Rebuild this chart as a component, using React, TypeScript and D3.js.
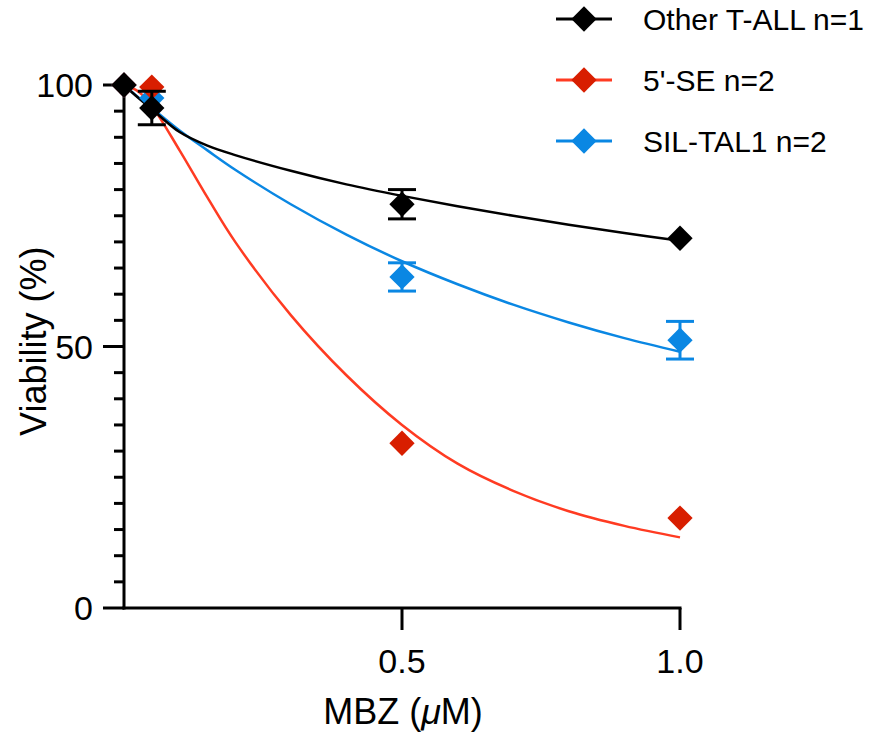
import * as d3 from "d3";
import { useEffect, useRef } from "react";

// doses (uM)
const doses = [0, 0.05, 0.5, 1.0];

// mean viability (%) per group
const otherTall = [100, 95.6, 77.2, 70.7];
const otherTallErr = [0, 3.2, 2.8, 0];
const fiveSE = [100, 99.6, 31.5, 17.2];
const fiveSEErr = [0, 0, 0, 0];
const silTal1 = [100, 97.5, 63.3, 51.2];
const silTal1Err = [0, 0, 2.7, 3.6];

// fitted curves
const fitDoses = [0, 0.025, 0.05, 0.1, 0.15, 0.2, 0.3, 0.4, 0.5, 0.6, 0.7, 0.8, 0.9, 1.0];
const otherTallFit = [100, 97.6, 95.4, 91.0, 88.4, 86.6, 83.6, 81.0, 78.8, 76.8, 75.0, 73.3, 71.7, 70.2];
const fiveSEFit = [100, 98.8, 96.0, 87.5, 78.5, 70.0, 56.0, 44.5, 35.0, 27.6, 22.4, 18.5, 15.7, 13.5];
const silTal1Fit = [100, 97.7, 95.6, 91.3, 87.5, 83.8, 77.2, 71.4, 66.3, 61.9, 58.0, 54.6, 51.6, 49.0];

const yTicks = [0, 50, 100];
const xTicks = [0.5, 1.0];
const legendLabels = ["Other T-ALL n=1", "5'-SE n=2", "SIL-TAL1 n=2"];

const FONT = "'Liberation Sans', Arial, Helvetica, sans-serif";

const App = () => {
  const ref = useRef<SVGSVGElement>(null);

  useEffect(() => {
    const svg = d3.select(ref.current);
    svg.selectAll("*").remove();

    const x = d3.scaleLinear().domain([0, 1]).range([124, 680]);
    const y = d3.scaleLinear().domain([0, 100]).range([608, 85]);

    const groups = [
      { name: legendLabels[0], vals: otherTall, err: otherTallErr, fit: otherTallFit, line: "#000000", mark: "#000000" },
      { name: legendLabels[1], vals: fiveSE, err: fiveSEErr, fit: fiveSEFit, line: "#ff3b22", mark: "#d81e00" },
      { name: legendLabels[2], vals: silTal1, err: silTal1Err, fit: silTal1Fit, line: "#0a87e3", mark: "#0a87e3" },
    ];

    // axes
    const ax = svg.append("g").attr("stroke", "#000").attr("stroke-width", 3);
    ax.append("line").attr("x1", x(0)).attr("x2", x(0)).attr("y1", y(100) - 1.5).attr("y2", y(0) + 1.5);
    ax.append("line").attr("x1", x(0) - 1.5).attr("x2", x(1) + 1.5).attr("y1", y(0)).attr("y2", y(0));
    d3.range(0, 101, 5).forEach((v) => {
      const major = v % 50 === 0;
      ax.append("line")
        .attr("x1", x(0) - (major ? 21 : 10)).attr("x2", x(0))
        .attr("y1", y(v)).attr("y2", y(v));
    });
    xTicks.forEach((v) => {
      ax.append("line").attr("x1", x(v)).attr("x2", x(v)).attr("y1", y(0)).attr("y2", y(0) + 22);
    });

    svg.append("g")
      .selectAll("text")
      .data(yTicks)
      .join("text")
      .attr("x", 93)
      .attr("y", (d) => y(d))
      .attr("dy", "0.36em")
      .attr("text-anchor", "end")
      .attr("font-family", FONT)
      .attr("font-size", 34)
      .text((d) => d);

    svg.append("g")
      .selectAll("text")
      .data(xTicks)
      .join("text")
      .attr("x", (d) => x(d))
      .attr("y", 673)
      .attr("text-anchor", "middle")
      .attr("font-family", FONT)
      .attr("font-size", 34)
      .text((d) => d3.format(".1f")(d));

    const xt = svg.append("text")
      .attr("x", 403)
      .attr("y", 724)
      .attr("text-anchor", "middle")
      .attr("font-family", FONT)
      .attr("font-size", 36);
    xt.append("tspan").text("MBZ (");
    xt.append("tspan").attr("font-style", "italic").text("\u03bc");
    xt.append("tspan").text("M)");

    svg.append("text")
      .attr("transform", `translate(46,${y(51)}) rotate(-90)`)
      .attr("text-anchor", "middle")
      .attr("font-family", FONT)
      .attr("font-size", 36)
      .text("Viability (%)");

    // fitted curves
    const line = d3.line<number>()
      .x((_, i) => x(fitDoses[i]))
      .y((d) => y(d))
      .curve(d3.curveCatmullRom);
    [groups[2], groups[1], groups[0]].forEach((g) => {
      svg.append("path")
        .attr("d", line(g.fit))
        .attr("fill", "none")
        .attr("stroke", g.line)
        .attr("stroke-width", 2.5);
    });

    const diamond = d3.symbol().type(d3.symbolSquare).size(320);

    // points + error bars
    [groups[2], groups[1], groups[0]].forEach((g) => {
      const pg = svg.append("g");
      doses.forEach((dose, i) => {
        const e = g.err[i];
        if (e > 0) {
          pg.append("g")
            .attr("stroke", g.mark)
            .attr("stroke-width", 3)
            .call((s) => {
              s.append("line").attr("x1", x(dose)).attr("x2", x(dose)).attr("y1", y(g.vals[i] + e)).attr("y2", y(g.vals[i] - e));
              s.append("line").attr("x1", x(dose) - 14).attr("x2", x(dose) + 14).attr("y1", y(g.vals[i] + e)).attr("y2", y(g.vals[i] + e));
              s.append("line").attr("x1", x(dose) - 14).attr("x2", x(dose) + 14).attr("y1", y(g.vals[i] - e)).attr("y2", y(g.vals[i] - e));
            });
        }
        pg.append("path")
          .attr("d", diamond()!)
          .attr("transform", `translate(${x(dose)},${y(g.vals[i])}) rotate(45)`)
          .attr("fill", g.mark);
      });
    });

    // legend
    groups.forEach((g, i) => {
      const ly = 19 + i * 61;
      const lg = svg.append("g").attr("transform", `translate(0,${ly})`);
      lg.append("line").attr("x1", 556).attr("x2", 612).attr("y1", 0).attr("y2", 0)
        .attr("stroke", g.line).attr("stroke-width", 3);
      lg.append("path").attr("d", diamond()!).attr("transform", "translate(584,0) rotate(45)").attr("fill", g.mark);
      lg.append("text")
        .attr("x", 643)
        .attr("y", 0)
        .attr("dy", "0.36em")
        .attr("font-family", FONT)
        .attr("font-size", 30)
        .text(g.name);
    });
  }, []);

  return (
    <svg
      ref={ref}
      width={870}
      height={736}
      style={{ position: "absolute", left: 0, top: 0, background: "#fff" }}
    />
  );
};

export default App;
